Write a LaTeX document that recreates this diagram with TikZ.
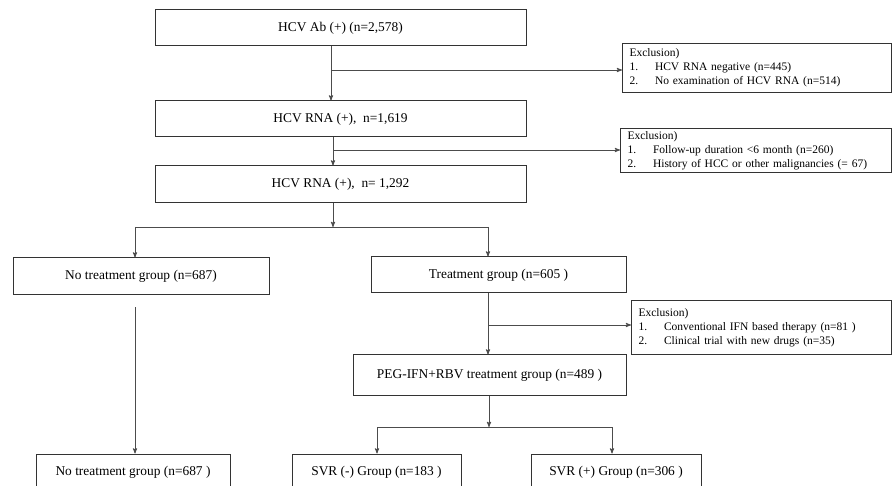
\documentclass[tikz,border=0pt]{standalone}
\usepackage{fontspec}
\setmainfont{Liberation Serif}
\usetikzlibrary{arrows,positioning}

\tikzset{
	block/.style={rectangle,draw=black!80,line width=1pt,inner sep=0pt,minimum height=36pt,font=\fontsize{13.4}{16}\selectfont},
	excl/.style={rectangle,draw=black!80,line width=1pt,anchor=north west,align=left,inner xsep=7pt,inner ysep=0pt,font=\fontsize{11.5}{14}\selectfont},
	flow/.style={draw=black!70,line width=0.9pt}
}
\newcommand{\itm}[1]{\makebox[25.5pt][l]{#1}}

\begin{document}
\begin{tikzpicture}[x=1pt,y=1pt,>=stealth']

\useasboundingbox (0,0) rectangle (892,-486);
\clip (0,0) rectangle (892,-486);

\node[block,minimum width=371pt]		(hcvab)	at (340.5,-28)	{HCV Ab (+) (n=2,578)};
\node[block,minimum width=371pt]		(rna1)	[below=54pt of hcvab]	{HCV RNA (+),~ n=1,619};
\node[block,minimum width=371pt,minimum height=37pt]	(rna2)	[below=28pt of rna1]	{HCV RNA (+),~ n= 1,292};

\node[block,minimum width=256pt,minimum height=37pt]	(notreat)	at (141,-276.5)	{No treatment group (n=687)};
\node[block,minimum width=255pt]		(treat)	at (498.5,-275)	{Treatment group (n=605 )};
\node[block,minimum width=273pt,minimum height=41pt]	(peg)	at (489.5,-375.5)	{PEG-IFN+RBV treatment group (n=489 )};

\node[block,minimum width=194pt,minimum height=37pt]	(notreatend)	at (133,-472.5)	{No treatment group (n=687 )};
\node[block,minimum width=169pt,minimum height=37pt]	(svrneg)	at (376.5,-472.5)	{SVR (-) Group (n=183 )};
\node[block,minimum width=170pt,minimum height=37pt]	(svrpos)	at (616,-472.5)	{SVR (+) Group (n=306 )};

\node[excl,text width=255pt,minimum height=49pt]	(exclrna)	at (622,-43)
	{Exclusion)\\\itm{1.}HCV RNA negative (n=445)\\\itm{2.}No examination of HCV RNA (n=514)};
\node[excl,text width=257pt,minimum height=44pt]	(exclfu)	at (620,-128)
	{Exclusion)\\\itm{1.}Follow-up duration <6 month (n=260)\\\itm{2.}History of HCC or other malignancies (= 67)};
\node[excl,text width=246pt,minimum height=54pt]	(excltx)	at (631,-300)
	{Exclusion)\\\itm{1.}Conventional IFN based therapy (n=81 )\\\itm{2.}Clinical trial with new drugs (n=35)};

\coordinate (b1) at (331,-70);
\coordinate (b2) at (333,-150);
\coordinate (b3) at (488,-325);
\coordinate (split1) at (333,-227);
\coordinate (left1) at (135,-227);
\coordinate (right1) at (488,-227);
\coordinate (split2) at (489,-427);
\coordinate (left2) at (377,-427);
\coordinate (right2) at (612,-427);

\draw[flow,->] (hcvab.south -| b1) -- (rna1.north -| b1);
\draw[flow,->] (b1) -- (b1 -| exclrna.west);
\draw[flow,->] (rna1.south -| b2) -- (rna2.north -| b2);
\draw[flow,->] (b2) -- (b2 -| exclfu.west);

\draw[flow,->] (rna2.south -| split1) -- (split1);
\draw[flow] (left1) -- (right1);
\draw[flow,->] (left1) -- (left1 |- notreat.north);
\draw[flow,->] (right1) -- (right1 |- treat.north);

\draw[flow,->] (treat.south -| b3) -- (peg.north -| b3);
\draw[flow,->] (b3) -- (b3 -| excltx.west);
\draw[flow,->] ([yshift=-12pt]notreat.south -| left1) -- (notreatend.north -| left1);

\draw[flow,->] (peg.south -| split2) -- (split2);
\draw[flow] (left2) -- (right2);
\draw[flow,->] (left2) -- (left2 |- svrneg.north);
\draw[flow,->] (right2) -- (right2 |- svrpos.north);
\end{tikzpicture}
\end{document}
